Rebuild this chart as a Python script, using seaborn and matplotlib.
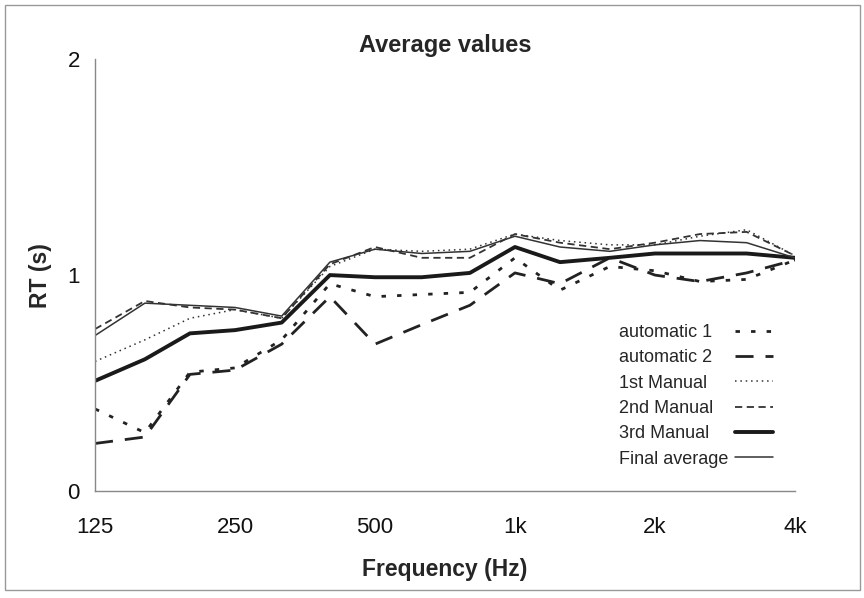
import numpy as np
import pandas as pd
import seaborn as sns
import matplotlib.pyplot as plt
from matplotlib.patches import Rectangle
from matplotlib.ticker import NullFormatter

# 1/3 octave bands
freqs = [125, 160, 200, 250, 315, 400, 500, 630, 800, 1000, 1250, 1600, 2000, 2500, 3150, 4000]

automatic_1 = [0.38, 0.27, 0.55, 0.57, 0.70, 0.96, 0.90, 0.91, 0.92, 1.08, 0.93, 1.04, 1.02, 0.97, 0.98, 1.07]
automatic_2 = [0.22, 0.25, 0.54, 0.56, 0.68, 0.90, 0.68, 0.77, 0.86, 1.01, 0.96, 1.08, 1.00, 0.97, 1.01, 1.07]
manual_1 = [0.60, 0.70, 0.80, 0.84, 0.80, 1.04, 1.12, 1.11, 1.12, 1.19, 1.16, 1.14, 1.14, 1.18, 1.21, 1.09]
manual_2 = [0.75, 0.88, 0.85, 0.84, 0.80, 1.05, 1.13, 1.08, 1.08, 1.19, 1.15, 1.12, 1.15, 1.19, 1.20, 1.09]
manual_3 = [0.51, 0.61, 0.73, 0.745, 0.78, 1.00, 0.99, 0.99, 1.01, 1.13, 1.06, 1.08, 1.10, 1.10, 1.10, 1.08]
final_avg = [0.72, 0.87, 0.86, 0.85, 0.81, 1.06, 1.12, 1.10, 1.11, 1.18, 1.13, 1.11, 1.14, 1.16, 1.15, 1.08]

tick_freqs = [125, 250, 500, 1000, 2000, 4000]
tick_labels = ["125", "250", "500", "1k", "2k", "4k"]

series = {
    "automatic 1": automatic_1,
    "automatic 2": automatic_2,
    "1st Manual": manual_1,
    "2nd Manual": manual_2,
    "3rd Manual": manual_3,
    "Final average": final_avg,
}

styles = {
    "automatic 1": dict(ls=(0, (1.6, 4.0)), lw=2.0, color="#222222"),
    "automatic 2": dict(ls=(0, (6.5, 4.3)), lw=2.0, color="#222222"),
    "1st Manual": dict(ls=(0, (1, 2.5)), lw=1.1, color="#333333"),
    "2nd Manual": dict(ls=(0, (4, 2.5)), lw=1.3, color="#333333"),
    "3rd Manual": dict(ls="-", lw=2.8, color="#1a1a1a"),
    "Final average": dict(ls="-", lw=1.1, color="#333333"),
}

df = pd.DataFrame({"freq": freqs, **series})

sns.set_style("white")
plt.rcParams["font.family"] = ["Liberation Sans", "DejaVu Sans"]

fig = plt.figure(figsize=(8.64, 5.98), dpi=100)
ax = fig.add_axes([0.110, 0.179, 0.810, 0.722])

for name in series:
    st = styles[name]
    sns.lineplot(data=df, x="freq", y=name, ax=ax, color=st["color"],
                 linewidth=st["lw"], linestyle=st["ls"], label=name)

ax.set_xscale("log", base=2)
ax.set_xlim(125, 4000)
ax.set_ylim(0, 2)
ax.set_xticks(tick_freqs)
ax.set_xticklabels(tick_labels)
ax.set_xticks(freqs, minor=True)
ax.xaxis.set_minor_formatter(NullFormatter())
ax.set_yticks([0, 1, 2])
ax.tick_params(axis="both", which="both", direction="out", length=5,
               width=1, color="#888888", labelsize=16, labelcolor="#111111")
ax.tick_params(axis="x", pad=14)
ax.tick_params(axis="y", pad=6)

for side in ["top", "right"]:
    ax.spines[side].set_visible(False)
for side in ["left", "bottom"]:
    ax.spines[side].set_color("#888888")
    ax.spines[side].set_linewidth(1)

ax.set_title("Average values", fontsize=17, fontweight="bold", pad=5)
ax.set_xlabel("Frequency (Hz)", fontsize=16.5, fontweight="bold", labelpad=14)
ax.set_ylabel("RT (s)", fontsize=16.5, fontweight="bold", labelpad=11)

# legend: text column on the left, line samples in a column to the right
handles, labels = ax.get_legend_handles_labels()
leg_kw = dict(bbox_transform=fig.transFigure, frameon=False, borderpad=0,
              borderaxespad=0, fontsize=13, labelspacing=0.46, loc="upper left")
leg_text = ax.legend(handles, labels, bbox_to_anchor=(0.717, 0.458),
                     handlelength=0, handletextpad=0, **leg_kw)
ax.add_artist(leg_text)
ax.legend(handles, [" "] * len(handles), bbox_to_anchor=(0.851, 0.458),
          handlelength=2.1, handletextpad=0, **leg_kw)

fig.patches.append(Rectangle((0.006, 0.013), 0.989, 0.978, transform=fig.transFigure,
                             fill=False, edgecolor="#999999", linewidth=1))

plt.savefig("out.png", dpi=100, facecolor="white")
